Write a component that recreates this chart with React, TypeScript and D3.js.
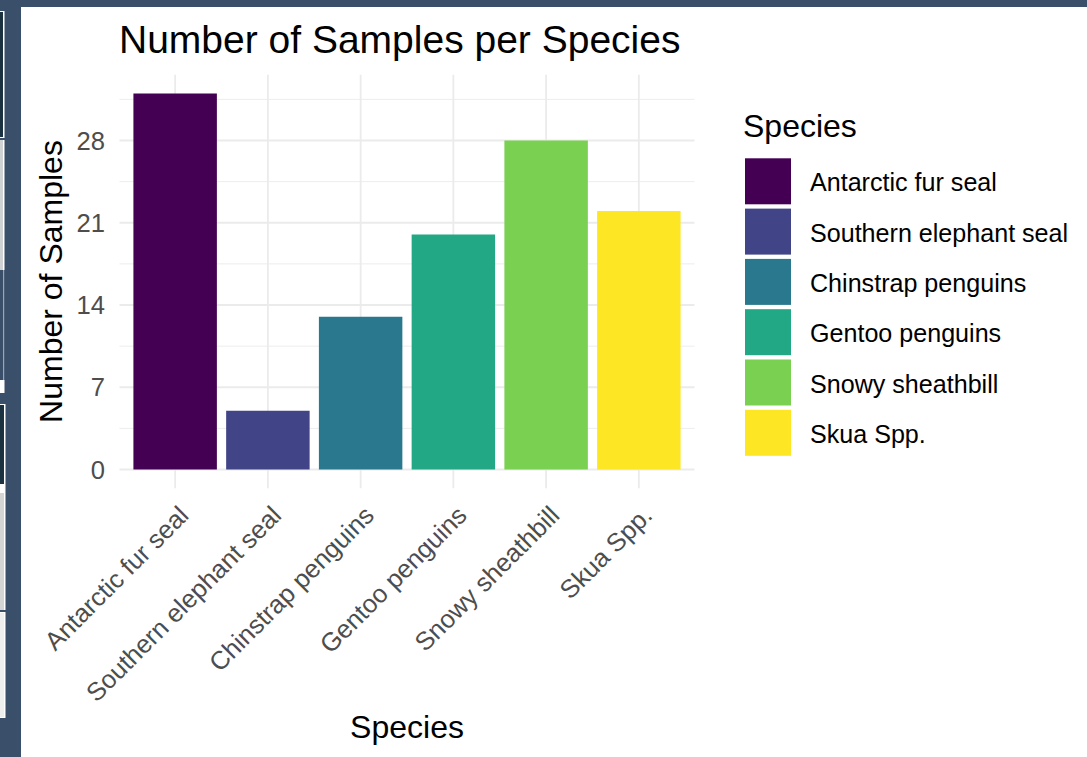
import React from "react";
import * as d3 from "d3";

const species = [
  "Antarctic fur seal",
  "Southern elephant seal",
  "Chinstrap penguins",
  "Gentoo penguins",
  "Snowy sheathbill",
  "Skua Spp.",
];
const sampleCounts = [32, 5, 13, 20, 28, 22];
const speciesColors = ["#440154", "#414487", "#2A788E", "#22A884", "#7AD151", "#FDE725"];
const yTicks = [0, 7, 14, 21, 28];
const yMinorTicks = [3.5, 10.5, 17.5, 24.5, 31.5];

const W = 1087;
const H = 757;
const FONT = "'Liberation Sans', Arial, sans-serif";
const FRAME = "#3a4f69";

export default function App() {
  const panel = { left: 119.5, right: 694.5, top: 74.7, bottom: 488.3 };
  const x = d3
    .scaleBand<string>()
    .domain(species)
    .range([panel.left, panel.right])
    .paddingInner(0.1)
    .paddingOuter(0.15);
  const y = d3.scaleLinear().domain([-1.6, 33.6]).range([panel.bottom, panel.top]);
  const color = d3.scaleOrdinal<string, string>().domain(species).range(speciesColors);

  const keyX = 745;
  const keyY0 = 158.3;
  const keyStep = 50.3;
  const keySize = 46;

  return (
    <svg
      width={W}
      height={H}
      style={{ position: "absolute", left: 0, top: 0, background: "#fff" }}
      fontFamily={FONT}
    >
      <rect x={0} y={0} width={W} height={H} fill="#fff" />
      {/* screenshot frame */}
      <rect x={0} y={0} width={W} height={7} fill={FRAME} />
      <rect x={0} y={0} width={21} height={H} fill={FRAME} />
      <rect x={0} y={11} width={4.5} height={127} fill="#fff" />
      <rect x={0} y={12} width={3} height={125} fill="#1b3340" />
      <rect x={0} y={140} width={4.5} height={130} fill="#fff" />
      <rect x={0} y={140} width={3} height={130} fill="#cfd1d2" />
      <rect x={3} y={270} width={1.2} height={110} fill="#9aa6b4" />
      <rect x={0} y={380} width={4.5} height={13} fill="#fff" />
      <rect x={0} y={404} width={5.5} height={81} fill="#fff" />
      <rect x={0} y={405} width={4} height={79} fill="#1b3340" />
      <rect x={0} y={485} width={5.5} height={8} fill="#fff" />
      <rect x={0} y={493} width={4} height={117} fill="#d3d5d5" />
      <rect x={4} y={493} width={1.5} height={117} fill="#fff" />
      <rect x={0} y={612} width={5.5} height={106} fill="#fff" />
      <rect x={0} y={613} width={4} height={104} fill="#eef0f0" />

      {/* grid */}
      {yMinorTicks.map((t) => (
        <line
          key={"mn" + t}
          x1={panel.left}
          x2={panel.right}
          y1={y(t)}
          y2={y(t)}
          stroke="#ebebeb"
          strokeWidth={0.9}
        />
      ))}
      {yTicks.map((t) => (
        <line
          key={"mj" + t}
          x1={panel.left}
          x2={panel.right}
          y1={y(t)}
          y2={y(t)}
          stroke="#ebebeb"
          strokeWidth={1.8}
        />
      ))}
      {species.map((s) => (
        <line
          key={"vx" + s}
          x1={x(s)! + x.bandwidth() / 2}
          x2={x(s)! + x.bandwidth() / 2}
          y1={panel.top}
          y2={panel.bottom}
          stroke="#ebebeb"
          strokeWidth={1.8}
        />
      ))}

      {/* bars */}
      {species.map((s, i) => (
        <rect
          key={"b" + s}
          x={x(s)!}
          y={y(sampleCounts[i])}
          width={x.bandwidth()}
          height={y(0) - y(sampleCounts[i])}
          fill={color(s)}
        />
      ))}

      {/* y tick labels */}
      {yTicks.map((t) => (
        <text
          key={"yt" + t}
          x={105}
          y={y(t)}
          dy="0.36em"
          textAnchor="end"
          fontSize={25.6}
          fill="#4d4d4d"
        >
          {t}
        </text>
      ))}

      {/* x tick labels */}
      {species.map((s) => {
        const cx = x(s)! + x.bandwidth() / 2 + 15;
        const cy = 517;
        return (
          <text
            key={"xt" + s}
            transform={`translate(${cx},${cy}) rotate(-45)`}
            textAnchor="end"
            fontSize={25.6}
            fill="#4d4d4d"
          >
            {s}
          </text>
        );
      })}

      {/* axis titles */}
      <text
        transform={`translate(62,${(panel.top + panel.bottom) / 2}) rotate(-90)`}
        textAnchor="middle"
        fontSize={32}
        fill="#000"
      >
        Number of Samples
      </text>
      <text x={(panel.left + panel.right) / 2} y={738} textAnchor="middle" fontSize={32} fill="#000">
        Species
      </text>

      {/* title */}
      <text x={119} y={53} fontSize={39} fill="#000">
        Number of Samples per Species
      </text>

      {/* legend */}
      <text x={743} y={137} fontSize={32} fill="#000">
        Species
      </text>
      {species.map((s, i) => (
        <g key={"lg" + s}>
          <rect
            x={keyX}
            y={keyY0 + i * keyStep}
            width={keySize}
            height={keySize}
            fill={color(s)}
          />
          <text
            x={810}
            y={keyY0 + i * keyStep + keySize / 2 + 10}
            fontSize={25.1}
            fill="#000"
          >
            {s}
          </text>
        </g>
      ))}
    </svg>
  );
}
